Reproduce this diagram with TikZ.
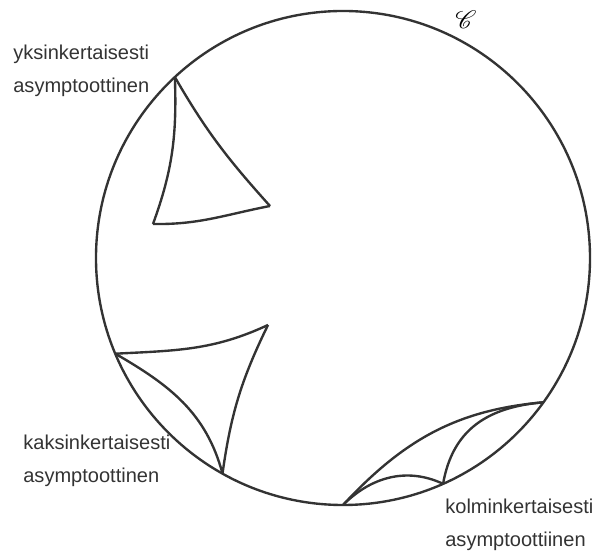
\documentclass[tikz,border=0pt]{standalone}
\usepackage{fontspec}
\usepackage{mathrsfs}
\setmainfont{Liberation Sans}
\usepackage{tikz}
\definecolor{diskline}{HTML}{333333}

\begin{document}
\begin{tikzpicture}[
  geo/.style={draw=diskline,line width=1.35pt,line join=round},
  lab/.style={font=\fontsize{11.4pt}{17pt}\selectfont\color{diskline},align=left,anchor=base west,inner sep=0pt}
]
\useasboundingbox (-6.86,-5.88) rectangle (4.98,5.16);
\coordinate (O) at (0,0);
\draw[geo] (O) circle (4.94);
\node[font=\fontsize{14.5pt}{17pt}\selectfont] (cname) at (2.46,4.76) {$\mathscr{C}$};

% yksinkertaisesti asymptoottinen
\coordinate (a1) at (132.9:4.94);
\coordinate (b1) at (-3.80,0.68);
\coordinate (c1) at (-1.46,1.04);
\draw[geo] (a1) to[out=-88,in=70] (b1);
\draw[geo] (a1) to[out=-60,in=132] (c1);
\draw[geo] (b1) to[out=-1,in=191] (c1);

% kaksinkertaisesti asymptoottinen
\coordinate (a2) at (202.8:4.94);
\coordinate (b2) at (240.8:4.94);
\coordinate (c2) at (-1.50,-1.34);
\draw[geo] (a2) to[out=3,in=205] (c2);
\draw[geo] (a2) to[out=-30,in=105] (b2);
\draw[geo] (b2) to[out=82,in=244] (c2);

% kolminkertaisesti asymptoottinen
\coordinate (a3) at (270:4.94);
\coordinate (b3) at (293.9:4.94);
\coordinate (c3) at (324.25:4.94);
\draw[geo] (a3) to[out=47,in=185] (c3);
\draw[geo] (a3) to[out=45,in=155] (b3);
\draw[geo] (b3) to[out=80,in=185,looseness=1.1] (c3);

\node[lab] (simple) at (-6.60,3.30) {yksinkertaisesti\\[2pt]asymptoottinen};
\node[lab] (double) at (-6.40,-4.50) {kaksinkertaisesti\\[2pt]asymptoottinen};
\node[lab] (triple) at (2.04,-5.78) {kolminkertaisesti\\[2pt]asymptoottiinen};
\end{tikzpicture}
\end{document}
